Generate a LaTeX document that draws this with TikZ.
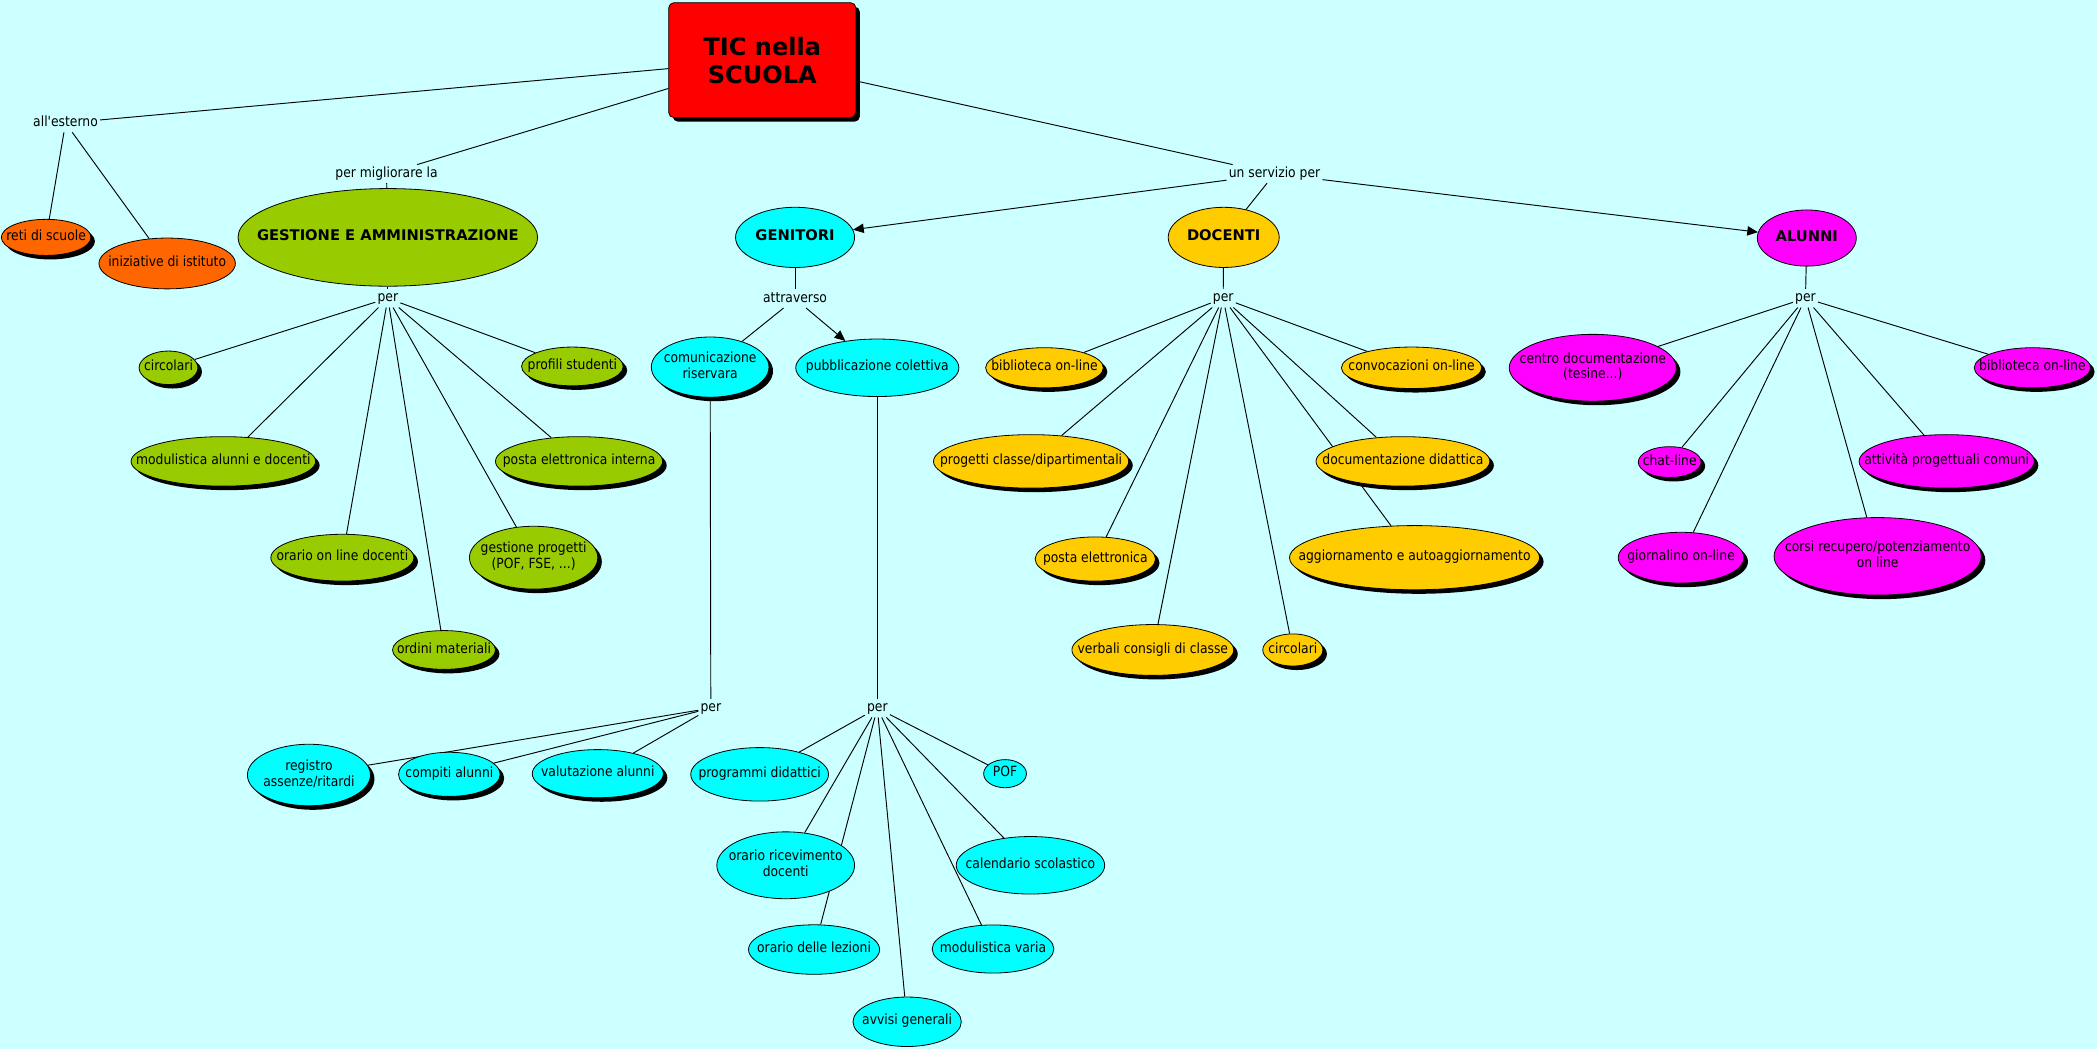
\documentclass[tikz,border=0pt]{standalone}
\usepackage{fontspec}
\setmainfont{DejaVu Sans}[FakeStretch=0.88,Ligatures=TeXOff]
\newfontfamily\boldfam{DejaVu Sans}[Ligatures=TeXOff]
\usetikzlibrary{shapes.geometric,shadows,arrows.meta}
\pgfdeclarelayer{bg}
\pgfdeclarelayer{lines}
\pgfsetlayers{bg,lines,main}
\definecolor{bgc}{HTML}{CCFFFF}
\definecolor{cred}{HTML}{FF0000}
\definecolor{corange}{HTML}{FF6600}
\definecolor{cgreen}{HTML}{99CC00}
\definecolor{ccyan}{HTML}{00FFFF}
\definecolor{cgold}{HTML}{FFCC00}
\definecolor{cmag}{HTML}{FF00FF}
\newcommand\nf{\fontsize{10.5}{11.8}\selectfont}
\newcommand\bfont{\boldfam\bfseries\fontsize{11}{13}\selectfont}
\newcommand\tx[1]{\raisebox{-1pt}{\makebox[0pt]{\begin{tabular}{@{}c@{}}#1\end{tabular}}}}
\tikzset{
  lbl/.style={font=\nf, inner sep=1.5pt, text height=8pt, text depth=2.5pt},
  con/.style={ellipse, draw=black, line width=0.6pt, inner sep=0pt, font=\nf},
  sz/.style 2 args={minimum width=#1pt, minimum height=#2pt},
  shad/.style={drop shadow={shadow xshift=3pt,shadow yshift=-3pt,fill=black,opacity=1}},
  onode/.style={con, fill=corange},
  gnode/.style={con, fill=cgreen},
  cnode/.style={con, fill=ccyan},
  ynode/.style={con, fill=cgold},
  mnode/.style={con, fill=cmag},
  link/.style={draw=black, line width=0.7pt},
  arr/.style={link, -{Triangle[length=8pt,width=7pt]}},
}
\begin{document}
\begin{tikzpicture}[x=1pt,y=-1pt]
\begin{pgfonlayer}{bg}
\fill[bgc] (0,0) rectangle (1568,784);
\end{pgfonlayer}
\useasboundingbox (0,0) rectangle (1568,784);

% main
\node[rectangle, rounded corners=4pt, draw=black, line width=0.6pt, fill=cred, shad,
      minimum width=140pt, minimum height=86pt, align=center,
      font=\boldfam\bfseries\fontsize{18}{21}\selectfont] (tic) at (570,45) {TIC nella\\SCUOLA};

% esterno
\node[lbl] (est) at (49,92) {all'esterno};
\node[onode,shad,sz={67}{27}] (reti) at (34.5,177.5) {\tx{reti di scuole}};
\node[onode,sz={102}{38}] (inizi) at (125,197) {\tx{iniziative di istituto}};

% gestione
\node[lbl] (pml) at (289,130) {per migliorare la};
\node[gnode,sz={224}{73}] (gest) at (290,177.5) {\tx{\bfont GESTIONE E AMMINISTRAZIONE}};
\node[lbl] (gper) at (290,223) {per};
\node[gnode,shad,sz={44}{25}] (gcirc) at (126,275) {\tx{circolari}};
\node[gnode,shad,sz={76}{29}] (prof) at (428,274) {\tx{profili studenti}};
\node[gnode,shad,sz={138}{37}] (modul) at (167,345) {\tx{modulistica alunni e docenti}};
\node[gnode,shad,sz={125}{37}] (postai) at (433,345) {\tx{posta elettronica interna}};
\node[gnode,shad,sz={107}{35}] (orario) at (256,417) {\tx{orario on line docenti}};
\node[gnode,shad,sz={96}{47}] (gprog) at (399,417) {\tx{gestione progetti\\(POF, FSE, ...)}};
\node[gnode,shad,sz={77}{29}] (ordini) at (332,486) {\tx{ordini materiali}};

% servizio
\node[lbl] (serv) at (953,130) {un servizio per};

% genitori
\node[cnode,sz={89}{45}] (gen) at (594.5,177.5) {\tx{\bfont GENITORI}};
\node[lbl] (attr) at (594.5,223.4) {attraverso};
\node[cnode,shad,sz={88}{45}] (comr) at (531,274.5) {\tx{comunicazione\\riservara}};
\node[cnode,sz={122}{43}] (pubc) at (656,275) {\tx{pubblicazione colettiva}};
\node[lbl] (cper) at (531.5,529.5) {per};
\node[lbl] (pper) at (656,529.5) {per};
\node[cnode,shad,sz={92}{46}] (regi) at (231,579.5) {\tx{registro\\assenze/ritardi}};
\node[cnode,shad,sz={76}{33}] (comp) at (336,579) {\tx{compiti alunni}};
\node[cnode,shad,sz={98}{36}] (valu) at (447,578.5) {\tx{valutazione alunni}};
\node[cnode,sz={103}{40}] (progd) at (568,579) {\tx{programmi didattici}};
\node[cnode,sz={32}{21}] (pof) at (751.5,578.5) {\tx{POF}};
\node[cnode,sz={103}{50}] (oric) at (587.5,647) {\tx{orario ricevimento\\docenti}};
\node[cnode,sz={111}{43}] (cal) at (770.5,647) {\tx{calendario scolastico}};
\node[cnode,sz={98}{37}] (orl) at (608.7,710) {\tx{orario delle lezioni}};
\node[cnode,sz={91}{36}] (modv) at (742.5,709.6) {\tx{modulistica varia}};
\node[cnode,sz={81}{37}] (avv) at (678.3,764) {\tx{avvisi generali}};

% docenti
\node[ynode,sz={83}{45}] (doc) at (915,177.5) {\tx{\bfont DOCENTI}};
\node[lbl] (dper) at (914.6,223) {per};
\node[ynode,shad,sz={88}{30}] (bibd) at (781,275) {\tx{biblioteca on-line}};
\node[ynode,shad,sz={146}{40}] (progc) at (771,345) {\tx{progetti classe/dipartimentali}};
\node[ynode,shad,sz={90}{33}] (postd) at (819,418) {\tx{posta elettronica}};
\node[ynode,shad,sz={121}{38}] (verb) at (862,486) {\tx{verbali consigli di classe}};
\node[ynode,shad,sz={45}{24}] (dcirc) at (966.7,486) {\tx{circolari}};
\node[ynode,shad,sz={105}{31}] (conv) at (1055.5,275) {\tx{convocazioni on-line}};
\node[ynode,shad,sz={130}{37}] (docd) at (1049,345) {\tx{documentazione didattica}};
\node[ynode,shad,sz={187}{48}] (aggi) at (1057.7,417) {\tx{aggiornamento e autoaggiornamento}};

% alunni
\node[mnode,sz={74}{42}] (alu) at (1351,178) {\tx{\bfont ALUNNI}};
\node[lbl] (aper) at (1350,223) {per};
\node[mnode,shad,sz={125}{50}] (cent) at (1191,275) {\tx{centro documentazione\\(tesine...)}};
\node[mnode,shad,sz={87}{30}] (biba) at (1519.7,275) {\tx{biblioteca on-line}};
\node[mnode,shad,sz={47}{23}] (chat) at (1248.5,345.5) {\tx{chat-line}};
\node[mnode,shad,sz={131}{40}] (atti) at (1455.6,345) {\tx{attività progettuali comuni}};
\node[mnode,shad,sz={94}{38}] (gior) at (1257,417) {\tx{giornalino on-line}};
\node[mnode,shad,sz={155}{58}] (cors) at (1404,416) {\tx{corsi recupero/potenziamento\\on line}};

\begin{pgfonlayer}{lines}
\draw[link] (tic) -- (est);
\draw[link] (est) -- (reti);
\draw[link] (est) -- (inizi);
\draw[link] (tic) -- (pml);
\draw[link] (pml) -- (gest);
\draw[link] (gest) -- (gper);
\foreach \n in {gcirc,prof,modul,postai,orario,gprog,ordini}
  \draw[link] (gper) -- (\n);
\draw[link] (tic) -- (serv);
\draw[arr] (serv) -- (gen);
\draw[link] (serv) -- (doc);
\draw[arr] (serv) -- (alu);
\draw[link] (gen) -- (attr);
\draw[link] (attr) -- (comr);
\draw[arr] (attr) -- (pubc);
\draw[link] (comr) -- (cper);
\draw[link] (pubc) -- (pper);
\foreach \n in {regi,comp,valu}
  \draw[link] (cper) -- (\n);
\foreach \n in {progd,pof,oric,cal,orl,modv,avv}
  \draw[link] (pper) -- (\n);
\draw[link] (doc) -- (dper);
\foreach \n in {bibd,progc,postd,verb,dcirc,conv,docd,aggi}
  \draw[link] (dper) -- (\n);
\draw[link] (alu) -- (aper);
\foreach \n in {cent,biba,chat,atti,gior,cors}
  \draw[link] (aper) -- (\n);
\end{pgfonlayer}
\end{tikzpicture}
\end{document}
